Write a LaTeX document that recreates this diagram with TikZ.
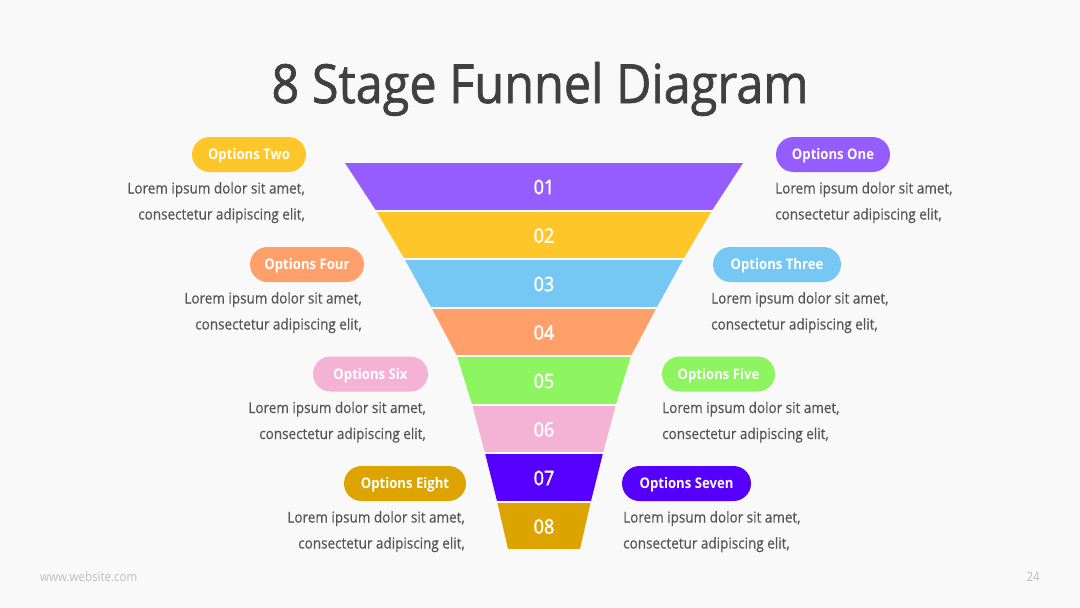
\documentclass[tikz,border=0pt]{standalone}
\usepackage{fontspec}
\setmainfont{Open Sans}[FakeStretch=0.9]
\newfontfamily\titlefont{Open Sans}[FakeStretch=0.9, RawFeature={embolden=1.2}]
\newfontfamily\numfont{Open Sans}[FakeStretch=0.9, RawFeature={embolden=1.8}]
\newfontfamily\bodyfont{Open Sans}[FakeStretch=0.9, RawFeature={embolden=0.4}]
\definecolor{bg}{HTML}{F9F9F9}
\definecolor{ttl}{HTML}{404040}
\definecolor{body}{HTML}{555555}
\definecolor{foot}{HTML}{BDBDBD}
\definecolor{cA}{HTML}{955CFF}
\definecolor{cB}{HTML}{FFC62A}
\definecolor{cC}{HTML}{75C8F3}
\definecolor{cD}{HTML}{FFA06A}
\definecolor{cE}{HTML}{8DF55F}
\definecolor{cF}{HTML}{F4B3D4}
\definecolor{cG}{HTML}{5500FF}
\definecolor{cH}{HTML}{DDA400}
\tikzset{
  pill/.style={rounded corners=17.5pt, minimum height=35pt, inner sep=0pt, text=white,
    text height=10.4pt, text depth=0pt,
    font=\bfseries\fontsize{14.6}{16}\selectfont},
  lorem/.style={inner sep=0pt, text=body, font=\bodyfont\fontsize{15}{18}\selectfont},
  num/.style={inner sep=0pt, text=white, text height=14.3pt, text depth=0pt, font=\numfont\fontsize{20}{24}\selectfont},
}
\begin{document}
\begin{tikzpicture}[x=1pt,y=-1pt]
\useasboundingbox (0,0) rectangle (1080,608);
\fill[bg] (0,0) rectangle (1080,608);
\node[anchor=base, text=ttl, inner sep=0pt, font=\titlefont\fontsize{54}{60}\selectfont] (title) at (540,103) {8 Stage Funnel Diagram};
% funnel
\begin{scope}
\clip (345,163) -- (375,209) -- (404,258) -- (431,307) -- (457,356) -- (472,404) -- (485,453) -- (497,501) -- (508,549)
  -- (580,549) -- (591,501) -- (603,453) -- (616,404) -- (631,356) -- (657,307) -- (684,258) -- (713,209) -- (743,163) -- cycle;
\foreach \i/\c in {0/cA,1/cB,2/cC,3/cD,4/cE,5/cF,6/cG,7/cH}{
  \fill[\c] (300,163+\i*48.5) rectangle (800,163+\i*48.5+46.5);
}
\end{scope}
\foreach \i/\t in {0/01,1/02,2/03,3/04,4/05,5/06,6/07,7/08}{
  \node[num] (n\t) at (544,163+\i*48.5+24) {\t};
}
% pills
\node[pill, fill=cB, minimum width=114pt] (p2) at (249,154.5) {Options Two};
\node[pill, fill=cA, minimum width=114pt] (p1) at (833,154.5) {Options One};
\node[pill, fill=cD, minimum width=114pt] (p4) at (307,264.5) {Options Four};
\node[pill, fill=cC, minimum width=128pt] (p3) at (777,264.5) {Options Three};
\node[pill, fill=cF, minimum width=115pt] (p6) at (370.5,374) {Options Six};
\node[pill, fill=cE, minimum width=113pt] (p5) at (718.5,374) {Options Five};
\node[pill, fill=cH, minimum width=122pt] (p8) at (405,483.5) {Options Eight};
\node[pill, fill=cG, minimum width=129pt] (p7) at (686.5,483.5) {Options Seven};
% texts
\foreach \nm/\xl/\xr/\c in {a/305/775/154.5, b/362/711/264.5, c/426/662/374, d/465/623/483.5}{
  \node[lorem, anchor=base east] (l\nm1) at (\xl,\c+39) {Lorem ipsum dolor sit amet,};
  \node[lorem, anchor=base east] (l\nm2) at (\xl,\c+65) {consectetur adipiscing elit,};
  \node[lorem, anchor=base west] (r\nm1) at (\xr,\c+39) {Lorem ipsum dolor sit amet,};
  \node[lorem, anchor=base west] (r\nm2) at (\xr,\c+65) {consectetur adipiscing elit,};
}
% footer
\node[anchor=west, inner sep=0pt, text=foot, font=\fontsize{12.8}{14}\selectfont] (web) at (40,577) {www.website.com};
\node[anchor=east, inner sep=0pt, text=foot, font=\fontsize{12.8}{14}\selectfont] (pg) at (1040,577) {24};
\end{tikzpicture}
\end{document}
